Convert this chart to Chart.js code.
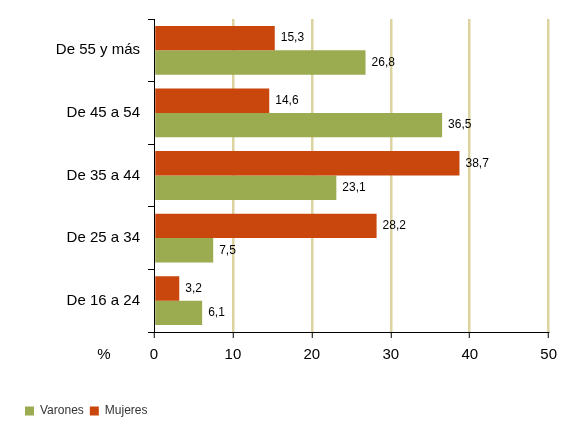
<!DOCTYPE html>
<html>
<head>
<meta charset="utf-8">
<script src="https://cdn.jsdelivr.net/npm/chart.js@4/dist/chart.umd.min.js"></script>
<style>
  html, body { margin: 0; padding: 0; background: #fff; }
  #wrap { width: 565px; height: 423px; }
</style>
</head>
<body>
<div id="wrap"><canvas id="ageChart"></canvas></div>
<script>
var categorias = ["De 55 y más", "De 45 a 54", "De 35 a 44", "De 25 a 34", "De 16 a 24"];
var mujeres = [15.3, 14.6, 38.7, 28.2, 3.2];
var varones = [26.8, 36.5, 23.1, 7.5, 6.1];
var xTicks = [0, 10, 20, 30, 40, 50];

// etiquetas de valor al final de cada barra + el "%" del eje
var valueLabels = {
  id: 'valueLabels',
  afterDatasetsDraw: function(chart) {
    var ctx = chart.ctx;
    ctx.save();
    ctx.font = '12px "Liberation Sans", Arial, sans-serif';
    ctx.fillStyle = '#000';
    ctx.textBaseline = 'middle';
    ctx.textAlign = 'left';
    chart.data.datasets.forEach(function(ds, i) {
      chart.getDatasetMeta(i).data.forEach(function(bar, j) {
        var txt = ds.data[j].toFixed(1).replace('.', ',');
        ctx.fillText(txt, bar.x + 6, bar.y);
      });
    });
    var xs = chart.scales.x;
    ctx.font = '15px "Liberation Sans", Arial, sans-serif';
    ctx.textAlign = 'center';
    ctx.fillText('%', 104, xs.top + 23);
    ctx.restore();
  }
};

var ctx = document.getElementById('ageChart').getContext("2d");

var myChart = new Chart(ctx, {
  type: 'bar',
  data: {
    labels: categorias,
    datasets: [{
        label: "Mujeres",
        backgroundColor: "#c9470c",
        data: mujeres
      }, {
        label: "Varones",
        backgroundColor: "#9bab50",
        data: varones
      }
    ]
  },
  plugins: [valueLabels],
  options: {
    indexAxis: 'y',
    responsive: true,
    maintainAspectRatio: false,
    animation: false,
    datasets: {
      bar: {
        barPercentage: 1.0,
        categoryPercentage: 0.78
      }
    },
    layout: {
      padding: { left: 19, right: 12, top: 19, bottom: -4 }
    },
    scales: {
      x: {
        min: 0,
        max: 50,
        afterBuildTicks: function(scale) {
          scale.ticks = xTicks.map(function(v) { return { value: v }; });
        },
        afterFit: function(scale) { scale.height += 27; },
        grid: {
          color: function(c) { return c.tick && c.tick.value === 0 ? 'rgba(0,0,0,0)' : '#dcd3a0'; },
          lineWidth: 2.5,
          tickColor: '#000',
          tickLength: 6,
          tickWidth: 1
        },
        border: { color: '#000', width: 1 },
        ticks: {
          color: '#000',
          padding: 8,
          font: { family: '"Liberation Sans", Arial, sans-serif', size: 15 }
        }
      },
      y: {
        afterFit: function(scale) { scale.width = 135; },
        grid: {
          drawOnChartArea: false,
          color: '#000',
          tickLength: 6
        },
        border: { color: '#000', width: 1 },
        ticks: {
          color: '#000',
          padding: 8,
          font: { family: '"Liberation Sans", Arial, sans-serif', size: 15 }
        }
      }
    },
    plugins: {
      tooltip: { enabled: false },
      legend: {
        display: true,
        position: 'bottom',
        align: 'start',
        reverse: true,
        labels: {
          boxWidth: 9,
          boxHeight: 9,
          padding: 6,
          color: '#333',
          font: { family: '"Liberation Sans", Arial, sans-serif', size: 12 }
        }
      }
    }
  }
});
</script>
</body>
</html>
